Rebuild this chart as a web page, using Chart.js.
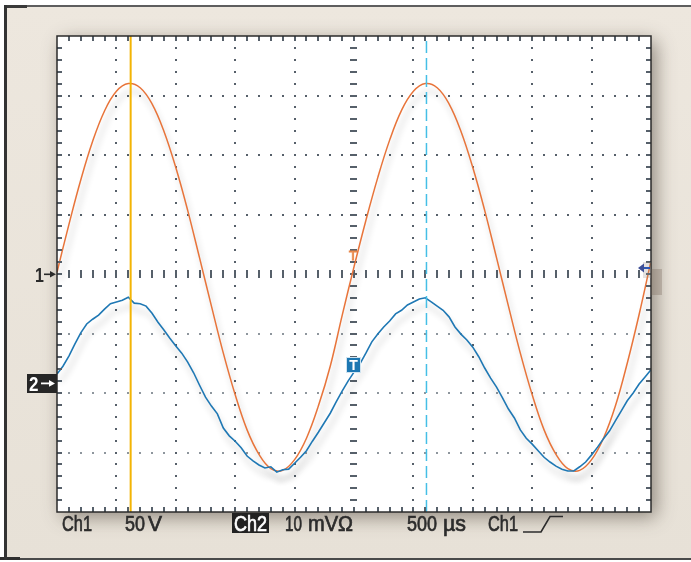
<!DOCTYPE html>
<html><head><meta charset="utf-8">
<script src="https://cdn.jsdelivr.net/npm/chart.js@4.4.1/dist/chart.umd.min.js"></script>
<style>html,body{margin:0;padding:0;background:#fff;overflow:hidden}#wrap{position:relative;width:691px;height:562px}canvas{display:block}</style>
</head><body><div id="wrap"><canvas id="c" width="691" height="562"></canvas></div>
<script>
// ---- data (screen divisions: 10 horizontal x 8 vertical, 500 us/div) ----
const ch1StepDiv = 0.2;   // Ch1 sample spacing (div)
const ch1Values = [0.03,0.83,1.58,2.23,2.74,3.07,3.20,3.13,2.86,2.40,1.79,1.07,0.27,-0.54,-1.33,-2.03,-2.62,-3.03,-3.27,-3.30,-3.12,-2.76,-2.22,-1.55,-0.70,
  0.12,0.90,1.62,2.25,2.75,3.07,3.20,3.13,2.86,2.40,1.79,1.07,0.27,-0.54,-1.33,-2.03,-2.62,-3.03,-3.27,-3.30,-3.12,-2.76,-2.22,-1.50,-0.68,0.22];
const ch2StepDiv = 0.1;   // Ch2 sample spacing (div)
const ch2Values = [-1.68,-1.55,-1.38,-1.18,-0.99,-0.84,-0.76,-0.69,-0.59,-0.50,-0.47,-0.44,-0.39,-0.49,-0.50,-0.54,-0.66,-0.81,-0.94,-1.08,
  -1.21,-1.33,-1.48,-1.66,-1.87,-2.07,-2.22,-2.35,-2.59,-2.72,-2.81,-2.92,-3.06,-3.14,-3.21,-3.26,-3.24,-3.33,-3.29,-3.28,
  -3.18,-3.08,-2.97,-2.81,-2.66,-2.50,-2.34,-2.15,-1.97,-1.80,-1.65,-1.51,-1.33,-1.14,-1.01,-0.89,-0.79,-0.67,-0.61,-0.52,
  -0.47,-0.42,-0.40,-0.47,-0.54,-0.61,-0.72,-0.89,-1.01,-1.11,-1.23,-1.39,-1.58,-1.75,-1.90,-2.08,-2.27,-2.42,-2.62,-2.76,
  -2.86,-2.97,-3.08,-3.16,-3.23,-3.28,-3.31,-3.31,-3.24,-3.16,-3.04,-2.91,-2.77,-2.64,-2.47,-2.30,-2.13,-2.00,-1.85,-1.73,-1.61];
const cursorPositions = [1.24, 6.22];         // time cursors (div)
const ch1GroundDiv = 0;                        // "1->" marker
const ch2GroundDiv = -1.83;                    // "2->" marker
const triggerLevelDiv = 0.33;                  // orange T marker level
const bottomLabels = [["Ch1",62,30],["50",125,20],["V",148,14],["10",285,17],["mV\u03A9",308,45],["500",407,30],["\u00B5s",443,23],["Ch1",488,30]];
const ch2Label = "Ch2";

const ch1Data = ch1Values.map((v,i)=>({x:+(i*ch1StepDiv).toFixed(2), y:v}));
const ch2Data = ch2Values.map((v,i)=>({x:+(i*ch2StepDiv).toFixed(2), y:v}));

const TXT = '#2c2c2c';
const GRID = '#56606a';
const GRID_LIGHT = '#8e969d';

const scopePlugin = {
  id:'scope',
  beforeDraw(chart){
    const {ctx, chartArea:a} = chart;
    ctx.save();
    ctx.fillStyle='#fff'; ctx.fillRect(0,0,691,562);
    const g = ctx.createLinearGradient(0,5,0,560);
    g.addColorStop(0,'#ede7de'); g.addColorStop(1,'#e7e1d7');
    ctx.fillStyle=g; ctx.fillRect(5,5,686,555);
    ctx.fillStyle='#5e5e5e'; ctx.fillRect(5,5,686,2);
    ctx.fillStyle='#3a3a3a'; ctx.fillRect(5,5,22,3);
    ctx.fillStyle='#4a4a4a'; ctx.fillRect(0,558,691,2);
    ctx.fillStyle='#2e2e2e'; ctx.fillRect(0,557,20,3);
    ctx.fillStyle='#333'; ctx.fillRect(4,5,3,555);
    ctx.save();
    ctx.shadowColor='rgba(70,60,50,0.55)'; ctx.shadowBlur=18; ctx.shadowOffsetX=5; ctx.shadowOffsetY=5;
    ctx.fillStyle='#fff'; ctx.fillRect(a.left,a.top,a.width,a.height);
    ctx.restore();
    ctx.restore();
  },
  beforeDatasetsDraw(chart){
    const {ctx, chartArea:a, scales:{x,y}} = chart;
    ctx.save();
    ctx.fillStyle=GRID;
    for(let gx=1; gx<=9; gx++){
      if(gx===5) continue;
      const px = Math.round(x.getPixelForValue(gx));
      for(let m=1; m<40; m++){ const py = y.getPixelForValue(-4+m*0.2); ctx.fillRect(px-1, Math.round(py)-1, 2, 2); }
    }
    for(let gy=-3; gy<=3; gy++){
      if(gy===0) continue;
      ctx.fillStyle = gy<0 ? GRID_LIGHT : GRID;
      const py = Math.round(y.getPixelForValue(gy));
      for(let m=1; m<50; m++){ if(m%5===0) continue; const px = x.getPixelForValue(m*0.2); ctx.fillRect(Math.round(px)-1, py-1, 2, 2); }
    }
    ctx.fillStyle=GRID;
    const cx = Math.round(x.getPixelForValue(5)), cy = Math.round(y.getPixelForValue(0));
    for(let m=1; m<40; m++){ const py = Math.round(y.getPixelForValue(-4+m*0.2)); ctx.fillRect(cx-4, py-1, 7, 2); }
    for(let m=1; m<50; m++){ const px = Math.round(x.getPixelForValue(m*0.2)); ctx.fillRect(px-1, cy-4, 2, 8); }
    ctx.restore();
  },
  beforeDatasetDraw(chart, args){
    const ctx = chart.ctx; ctx.save();
    const lbl = chart.data.datasets[args.index].label;
    if(lbl==='Ch1' || lbl==='Ch2'){ ctx.shadowColor='rgba(0,0,0,0.24)'; ctx.shadowBlur=6; ctx.shadowOffsetX=3; ctx.shadowOffsetY=8; }
  },
  afterDatasetDraw(chart){ chart.ctx.restore(); },
  afterDraw(chart){
    const {ctx, chartArea:a, scales:{x,y}} = chart;
    ctx.save();
    ctx.fillStyle=GRID;
    for(let m=1; m<50; m++){ const px=Math.round(x.getPixelForValue(m*0.2)); ctx.fillRect(px-1,a.top,2,5); ctx.fillRect(px-1,a.bottom-5,2,5); }
    for(let m=1; m<40; m++){ const py=Math.round(y.getPixelForValue(-4+m*0.2)); ctx.fillRect(a.left,py-1,5,2); ctx.fillRect(a.right-5,py-1,5,2); }
    ctx.strokeStyle='#2b2b2b'; ctx.lineWidth=1.5;
    ctx.strokeRect(a.left, a.top, a.width, a.height);
    ctx.font='22px "Liberation Sans", Arial, sans-serif';
    ctx.textBaseline='alphabetic';
    const fit=(s,x0,w,col)=>{ ctx.save(); ctx.fillStyle=col; ctx.strokeStyle=col; ctx.lineWidth=0.7; const mw=ctx.measureText(s).width; ctx.translate(x0,531); ctx.scale(w/mw,1); ctx.fillText(s,0,0); ctx.strokeText(s,0,0); ctx.restore(); };
    bottomLabels.forEach(l=>fit(l[0],l[1],l[2],TXT));
    ctx.fillStyle='#222'; ctx.fillRect(232,513,37,20);
    fit(ch2Label,234,33,'#fff');
    ctx.strokeStyle=TXT; ctx.lineWidth=1.6; ctx.beginPath();
    ctx.moveTo(523,532); ctx.lineTo(541,532); ctx.lineTo(550,516.5); ctx.lineTo(563,516.5); ctx.stroke();
    const g1 = Math.round(y.getPixelForValue(ch1GroundDiv));
    ctx.fillStyle='#2a2a2a'; ctx.font='bold 20px "Liberation Sans", Arial, sans-serif';
    ctx.save(); ctx.translate(35,g1+8); ctx.scale(0.8,1); ctx.fillText('1',0,0); ctx.restore();
    ctx.fillRect(44,g1-0.5,8,1.6);
    ctx.beginPath(); ctx.moveTo(56,g1+0.3); ctx.lineTo(50,g1-3); ctx.lineTo(50,g1+3.6); ctx.closePath(); ctx.fill();
    const g2 = Math.round(y.getPixelForValue(ch2GroundDiv));
    ctx.fillStyle='#262626'; ctx.fillRect(27,g2-9,30,19);
    ctx.fillStyle='#fff';
    ctx.save(); ctx.translate(29,g2+8); ctx.scale(0.85,1); ctx.fillText('2',0,0); ctx.restore();
    ctx.fillRect(41,g2-0.5,9,1.8);
    ctx.beginPath(); ctx.moveTo(55,g2+0.4); ctx.lineTo(49,g2-3); ctx.lineTo(49,g2+3.8); ctx.closePath(); ctx.fill();
    const tx = Math.round(x.getPixelForValue(5));
    ctx.fillStyle='#1c77b2'; ctx.fillRect(tx-8,357,15,16);
    ctx.strokeStyle='#cfe3f0'; ctx.lineWidth=1; ctx.strokeRect(tx-7.5,357.5,14,15);
    ctx.fillStyle='#fff'; ctx.font='bold 14px "Liberation Sans", Arial, sans-serif';
    ctx.textAlign='center'; ctx.fillText('T',tx-0.5,370);
    const tl = Math.round(y.getPixelForValue(triggerLevelDiv));
    ctx.strokeStyle='#e9884a'; ctx.lineWidth=1; ctx.font='13px "Liberation Sans", Arial, sans-serif';
    ctx.strokeText('T',tx-1,tl+6);
    ctx.textAlign='left';
    ctx.fillStyle='rgba(110,95,80,0.28)'; ctx.fillRect(651,269,11,26);
    ctx.fillStyle='rgba(150,140,130,0.25)'; ctx.fillRect(643,262,8,16);
    ctx.fillStyle='#2f58b5'; ctx.fillRect(642,267,8,2);
    ctx.fillStyle='#3d4f96';
    ctx.beginPath(); ctx.moveTo(638,268); ctx.lineTo(644,263.5); ctx.lineTo(644,272.5); ctx.closePath(); ctx.fill();
    ctx.restore();
  }
};

const vline = (xv)=>[{x:xv,y:-4},{x:xv,y:4}];

new Chart(document.getElementById('c'), {
  type:'line',
  data:{ datasets:[
    {label:'cursor1', data:vline(cursorPositions[0]), borderColor:'#f3b404', borderWidth:2, pointRadius:0, order:0},
    {label:'cursor2', data:vline(cursorPositions[1]), borderColor:'#45bfe6', borderWidth:1.5, borderDash:[12,5], pointRadius:0, order:0},
    {label:'Ch2', data:ch2Data, borderColor:'#1f78b4', borderWidth:1.6, pointRadius:0, tension:0, order:1},
    {label:'Ch1', data:ch1Data, borderColor:'#e8743a', borderWidth:1.5, pointRadius:0, tension:0.4, order:2}
  ]},
  options:{
    responsive:false, animation:false, devicePixelRatio:1,
    layout:{padding:{left:57, top:36, right:40, bottom:50}},
    plugins:{legend:{display:false}, tooltip:{enabled:false}},
    events:[],
    scales:{
      x:{type:'linear', min:0, max:10, display:false},
      y:{type:'linear', min:-4, max:4, display:false}
    }
  },
  plugins:[scopePlugin]
});
</script></body></html>
